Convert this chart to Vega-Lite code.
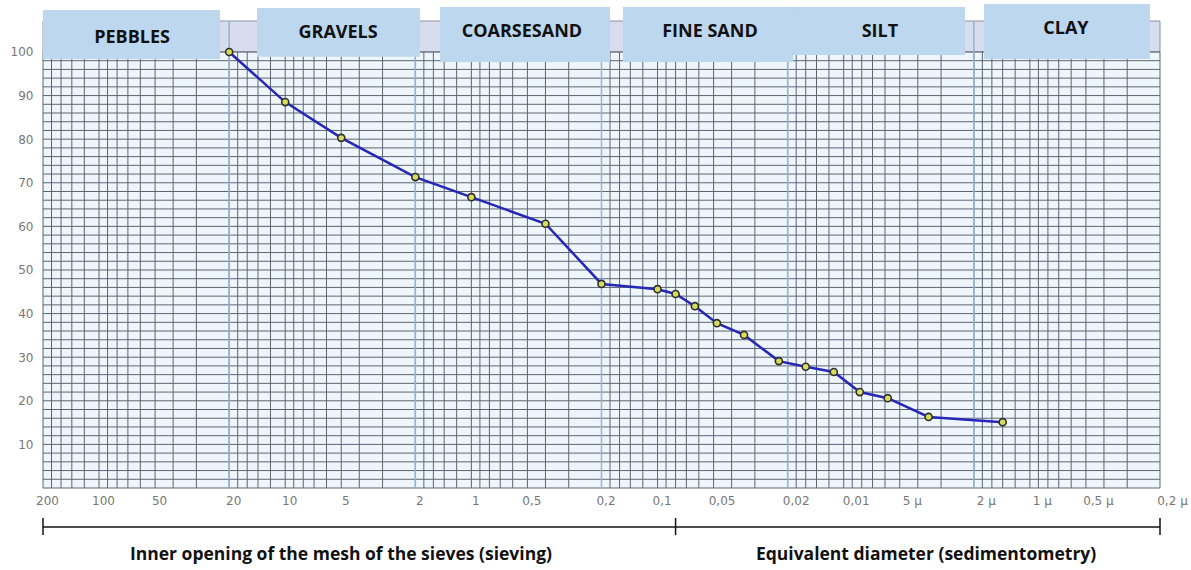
{
  "$schema": "https://vega.github.io/schema/vega-lite/v6.json",
  "width": 1117,
  "height": 484,
  "autosize": {"type": "none"},
  "padding": {"left": 43, "top": 4, "right": 31, "bottom": 82},
  "background": "white",
  "config": {"view": {"stroke": null}},
  "datasets": {
    "points": [
      {"d": 20, "p": 100}, {"d": 10, "p": 88.5}, {"d": 5, "p": 80.3}, {"d": 2, "p": 71.3},
      {"d": 1, "p": 66.7}, {"d": 0.4, "p": 60.6}, {"d": 0.2, "p": 46.8}, {"d": 0.1, "p": 45.6},
      {"d": 0.08, "p": 44.5}, {"d": 0.063, "p": 41.7}, {"d": 0.048, "p": 37.8}, {"d": 0.0343, "p": 35.1},
      {"d": 0.0223, "p": 29.1}, {"d": 0.016, "p": 27.8}, {"d": 0.0113, "p": 26.6}, {"d": 0.0082, "p": 22.0},
      {"d": 0.0058, "p": 20.6}, {"d": 0.0035, "p": 16.3}, {"d": 0.0014, "p": 15.1}
    ],
    "vgrid": [
      {"d": 200}, {"d": 180}, {"d": 160}, {"d": 140}, {"d": 120}, {"d": 100}, {"d": 90}, {"d": 80}, {"d": 70}, {"d": 60}, {"d": 50}, {"d": 40}, {"d": 30}, {"d": 20},
      {"d": 18}, {"d": 16}, {"d": 14}, {"d": 12}, {"d": 10}, {"d": 9}, {"d": 8}, {"d": 7}, {"d": 6}, {"d": 5}, {"d": 4}, {"d": 3}, {"d": 2},
      {"d": 1.8}, {"d": 1.6}, {"d": 1.4}, {"d": 1.2}, {"d": 1}, {"d": 0.9}, {"d": 0.8}, {"d": 0.7}, {"d": 0.6}, {"d": 0.5}, {"d": 0.4}, {"d": 0.3}, {"d": 0.2},
      {"d": 0.18}, {"d": 0.16}, {"d": 0.14}, {"d": 0.12}, {"d": 0.1}, {"d": 0.09}, {"d": 0.08}, {"d": 0.07}, {"d": 0.06}, {"d": 0.05}, {"d": 0.04}, {"d": 0.03}, {"d": 0.02},
      {"d": 0.018}, {"d": 0.016}, {"d": 0.014}, {"d": 0.012}, {"d": 0.01}, {"d": 0.009}, {"d": 0.008}, {"d": 0.007}, {"d": 0.006}, {"d": 0.005}, {"d": 0.004}, {"d": 0.003}, {"d": 0.002},
      {"d": 0.0018}, {"d": 0.0016}, {"d": 0.0014}, {"d": 0.0012}, {"d": 0.001}, {"d": 0.0009}, {"d": 0.0008}, {"d": 0.0007}, {"d": 0.0006}, {"d": 0.0005}, {"d": 0.0004}, {"d": 0.0003}, {"d": 0.0002}
    ],
    "hgrid": [
      {"p": 0}, {"p": 2}, {"p": 4}, {"p": 6}, {"p": 8}, {"p": 10}, {"p": 12}, {"p": 14}, {"p": 16}, {"p": 18},
      {"p": 20}, {"p": 22}, {"p": 24}, {"p": 26}, {"p": 28}, {"p": 30}, {"p": 32}, {"p": 34}, {"p": 36}, {"p": 38},
      {"p": 40}, {"p": 42}, {"p": 44}, {"p": 46}, {"p": 48}, {"p": 50}, {"p": 52}, {"p": 54}, {"p": 56}, {"p": 58},
      {"p": 60}, {"p": 62}, {"p": 64}, {"p": 66}, {"p": 68}, {"p": 70}, {"p": 72}, {"p": 74}, {"p": 76}, {"p": 78},
      {"p": 80}, {"p": 82}, {"p": 84}, {"p": 86}, {"p": 88}, {"p": 90}, {"p": 92}, {"p": 94}, {"p": 96}, {"p": 98}, {"p": 100}
    ],
    "classes": [{"d": 20}, {"d": 2}, {"d": 0.2}, {"d": 0.02}, {"d": 0.002}],
    "boxes": [
      {"name": "PEBBLES", "x1": 200, "x2": 22.4, "y1": 98.4, "y2": 109.6, "xc": 66.5, "yc": 103.2},
      {"name": "GRAVELS", "x1": 14.17, "x2": 1.889, "y1": 98.9, "y2": 110.1, "xc": 5.2, "yc": 104.3},
      {"name": "COARSESAND", "x1": 1.474, "x2": 0.18, "y1": 97.7, "y2": 110.3, "xc": 0.535, "yc": 104.5},
      {"name": "FINE SAND", "x1": 0.1533, "x2": 0.01873, "y1": 97.7, "y2": 110.3, "xc": 0.0523, "yc": 104.5},
      {"name": "SILT", "x1": 0.01873, "x2": 0.00223, "y1": 99.3, "y2": 110.3, "xc": 0.00639, "yc": 104.5},
      {"name": "CLAY", "x1": 0.001764, "x2": 0.0002265, "y1": 98.4, "y2": 111, "xc": 0.00064, "yc": 105.2}
    ],
    "bracket": [
      {"x1": 200, "x2": 0.0002, "y1": -8.94, "y2": -8.94},
      {"x1": 200, "x2": 200, "y1": -6.9, "y2": -10.8},
      {"x1": 0.08, "x2": 0.08, "y1": -6.9, "y2": -10.8},
      {"x1": 0.0002, "x2": 0.0002, "y1": -6.9, "y2": -10.8}
    ],
    "notes": [
      {"t": "Inner opening of the mesh of the sieves (sieving)", "x": 5.02, "y": -15.4},
      {"t": "Equivalent diameter (sedimentometry)", "x": 0.00361, "y": -15.4}
    ]
  },
  "layer": [
    {
      "data": {"values": [{"x1": 200, "x2": 0.0002, "y1": 0, "y2": 100}]},
      "mark": {"type": "rect", "fill": "#eef6fc"},
      "encoding": {
        "x": {
          "field": "x1", "type": "quantitative",
          "scale": {"type": "log", "domain": [0.0002, 200], "reverse": true, "nice": false},
          "axis": {
            "values": [200, 100, 50, 20, 10, 5, 2, 1, 0.5, 0.2, 0.1, 0.05, 0.02, 0.01, 0.005, 0.002, 0.001, 0.0005, 0.0002],
            "labelExpr": "datum.value < 0.009 ? replace(format(datum.value * 1000, '~g'), '.', ',') + ' µ' : replace(format(datum.value, '~g'), '.', ',')",
            "title": null, "domain": false, "ticks": false, "tickSize": 0, "grid": false,
            "labelPadding": 7, "labelOverlap": false, "labelFlush": false,
            "labelFont": "DejaVu Sans", "labelFontSize": 12, "labelColor": "#777777",
            "labelOffset": {"condition": [{"test": "datum.value < 0.015", "value": 12}, {"test": "datum.value < 0.06", "value": 8}], "value": 4}
          }
        },
        "x2": {"field": "x2"},
        "y": {
          "field": "y1", "type": "quantitative",
          "scale": {"domain": [0, 111], "nice": false, "zero": false},
          "axis": {
            "values": [10, 20, 30, 40, 50, 60, 70, 80, 90, 100],
            "title": null, "domain": false, "ticks": false, "tickSize": 0, "grid": false,
            "labelPadding": 10, "labelFont": "DejaVu Sans", "labelFontSize": 12, "labelColor": "#777777"
          }
        },
        "y2": {"field": "y2"}
      }
    },
    {
      "data": {"values": [{"x1": 200, "x2": 0.0002, "y1": 100, "y2": 107.1}]},
      "mark": {"type": "rect", "fill": "#d7dcef", "stroke": "#8e93a3", "strokeWidth": 1},
      "encoding": {
        "x": {"field": "x1", "type": "quantitative"},
        "x2": {"field": "x2"},
        "y": {"field": "y1", "type": "quantitative"},
        "y2": {"field": "y2"}
      }
    },
    {
      "data": {"name": "hgrid"},
      "mark": {"type": "rule", "color": "#5e6572", "strokeWidth": 1},
      "encoding": {
        "y": {"field": "p", "type": "quantitative"},
        "x": {"datum": 200, "type": "quantitative"},
        "x2": {"datum": 0.0002}
      }
    },
    {
      "data": {"name": "vgrid"},
      "mark": {"type": "rule", "color": "#5e6572", "strokeWidth": 1},
      "encoding": {
        "x": {"field": "d", "type": "quantitative"},
        "y": {"datum": 0, "type": "quantitative"},
        "y2": {"datum": 100}
      }
    },
    {
      "data": {"name": "classes"},
      "mark": {"type": "rule", "color": "#8fb6db", "strokeWidth": 1.5},
      "encoding": {
        "x": {"field": "d", "type": "quantitative"},
        "y": {"datum": 0, "type": "quantitative"},
        "y2": {"datum": 107.1}
      }
    },
    {
      "data": {"name": "boxes"},
      "mark": {"type": "rect", "fill": "#bdd7ee"},
      "encoding": {
        "x": {"field": "x1", "type": "quantitative"},
        "x2": {"field": "x2"},
        "y": {"field": "y1", "type": "quantitative"},
        "y2": {"field": "y2"}
      }
    },
    {
      "data": {"name": "boxes"},
      "mark": {"type": "text", "font": "Open Sans", "fontWeight": "bold", "fontSize": 18, "color": "#111111", "align": "center", "baseline": "middle"},
      "encoding": {
        "x": {"field": "xc", "type": "quantitative"},
        "y": {"field": "yc", "type": "quantitative"},
        "text": {"field": "name"}
      }
    },
    {
      "data": {"name": "points"},
      "mark": {"type": "line", "color": "#2626b8", "strokeWidth": 2.5},
      "encoding": {
        "x": {"field": "d", "type": "quantitative"},
        "y": {"field": "p", "type": "quantitative"},
        "order": {"field": "d", "sort": "descending"}
      }
    },
    {
      "data": {"name": "points"},
      "mark": {"type": "circle", "size": 50, "fill": "#d6dd5c", "stroke": "#2f2f2f", "strokeWidth": 1.6, "opacity": 1},
      "encoding": {
        "x": {"field": "d", "type": "quantitative"},
        "y": {"field": "p", "type": "quantitative"}
      }
    },
    {
      "data": {"name": "bracket"},
      "mark": {"type": "rule", "color": "#111111", "strokeWidth": 1.5},
      "encoding": {
        "x": {"field": "x1", "type": "quantitative"},
        "x2": {"field": "x2"},
        "y": {"field": "y1", "type": "quantitative"},
        "y2": {"field": "y2"}
      }
    },
    {
      "data": {"name": "notes"},
      "mark": {"type": "text", "font": "Open Sans", "fontWeight": "bold", "fontSize": 17.5, "color": "#111111", "align": "center", "baseline": "middle"},
      "encoding": {
        "x": {"field": "x", "type": "quantitative"},
        "y": {"field": "y", "type": "quantitative"},
        "text": {"field": "t"}
      }
    }
  ]
}
